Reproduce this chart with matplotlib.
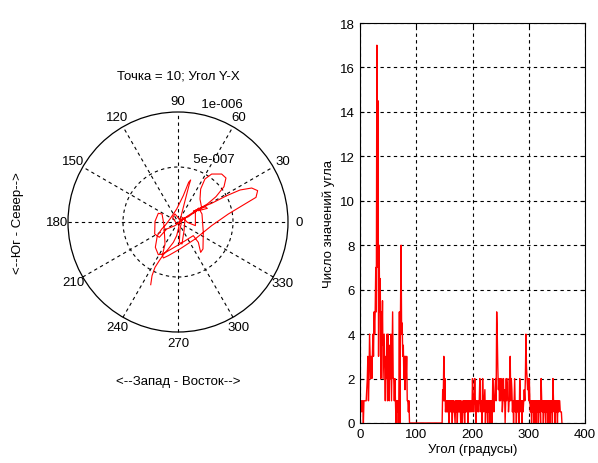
import numpy as np
import matplotlib.pyplot as plt
from matplotlib.patches import Circle

plt.rcParams['font.family'] = ['Liberation Sans', 'DejaVu Sans']
plt.rcParams['font.size'] = 8.5

# displacement track, east / north components in units of 1e-8
east = [-24.8, -23.6, -20.9, -17.0, -13.3, -8.8, -4.2, -1.2, 0.3, 1.2,
        3.3, 6.4, 10.3, 11.5, 9.7, 4.8, -1.2, -7.3, -11.8, -14.8,
        -18.8, -20.6, -17.9, -13.9, -11.8, -12.7, -14.5, -17.9, -20.9, -21.2,
        -17.0, -10.3, -2.7, 4.8, 12.4, 18.5, 21.5,
        20.0, 20.6, 24.5, 30.6, 39.7, 43.6, 41.8, 34.5, 26.7, 20.0, 13.9, 21.5,
        30.6, 44.2, 56.4, 67.0, 72.4, 70.9, 60.9, 45.8, 30.6, 15.5, 1.8, -8.8,
        -13.3, -14.5, -9.7, 1.8,
        13.9, 18.5, 20.6, 22.7, 23.0, 21.8, 18.8, 15.8, 15.8,
        8.5, 4.2, 1.8, 1.2, 3.6, 5.5, 6.4, 2.4, -1.2, -4.8, -2.7, 1.8, 9.4,
        17.0, 24.5, 26.7, 18.5]
north = [-57.0, -48.8, -41.2, -35.1, -29.7, -24.5, -18.5, -12.4, -6.4, -1.8,
         7.3, 19.4, 34.5, 38.2, 36.1, 23.9, 11.8, 2.7, -3.3, -6.4,
         -12.4, -23.0, -29.7, -29.1, -20.0, -3.3, 7.3, 7.9, 0.6, -10.9,
         -13.9, -6.4, -3.3, 2.7, 7.9, 10.9, 12.7,
         20.9, 30.0, 39.1, 43.6, 43.6, 40.0, 32.1, 23.0, 16.4, 12.4, 9.7, 13.3,
         17.0, 23.9, 29.1, 30.9, 28.5, 22.4, 16.4, 7.3, -3.3, -15.5, -24.5, -30.6,
         -32.7, -29.7, -26.7, -20.0,
         -12.4, -18.5, -27.6, -24.5, -9.4, 7.3, 12.7, 8.8, -3.3,
         -0.3, 4.2, -6.4, -18.5, -20.0, -7.9, 4.2, 0.6, -1.8, 4.2, 7.3, 1.8, 4.8,
         10.3, 13.9, 12.4, 10.3]

# number of angle values per degree, 0..359
counts = [0, 1, 1, 0.5, 1, 1, 0, 1, 1, 1,
          1, 1, 1.5, 2, 3, 1, 2, 4, 3, 2,
          3, 2, 3, 4, 3, 5, 4, 5, 7, 5,
          17, 7, 14.5, 3, 8, 5, 6.5, 2, 5, 3.5,
          5.5, 2, 3, 4, 2.5, 1, 3, 2, 4, 1,
          4, 2, 1, 3.5, 2, 4, 1, 3, 5, 2,
          2, 1, 2, 1, 0, 1, 0.5, 1, 0, 1,
          5, 0, 5, 8, 4, 4.5, 3, 3.5, 2, 3,
          1.5, 3, 2, 3, 1, 1, 0.5, 1, 0, 0] + [0] * 56 + [
          0, 1.5, 1, 3, 1, 2, 0.5, 1, 0.5, 1, 0.5, 1, 0, 1,
          0.5, 1, 0.5, 1, 0, 1, 0.5, 1, 0.5, 0,
          1, 0.5, 1, 0, 1, 0.5, 1, 0.5, 1, 0,
          1, 0.5, 0, 1, 0.5, 1, 0, 1, 0.5, 1,
          0.5, 1, 0, 1, 0.5, 1, 0.5, 1, 1, 0.5,
          2, 1, 0.5, 1, 2, 1, 0, 1, 0.5, 1,
          1, 0.5, 1, 2, 1, 0.5, 1, 0, 2, 1,
          0.5, 1, 1.5, 0, 1, 0.5, 1, 0, 1, 0.5,
          1, 0, 1, 0.5, 1, 0, 2, 1, 0.5, 1,
          1.5, 2, 1, 5, 4, 2.5, 1.5, 2, 1, 2,
          1, 1.5, 2, 0.5, 1, 2, 1, 1.5, 0, 1,
          2, 1, 1.5, 2, 0.5, 1, 1, 3, 1, 2,
          1.5, 0.5, 1, 0, 1, 2, 0.5, 1, 0, 1,
          0.5, 1, 1, 0, 2, 1, 0.5, 1, 0, 1,
          0.5, 1, 1.5, 1, 2, 4, 2.5, 2, 1.5, 2,
          1, 2, 1, 0.5, 1, 0, 1, 0.5, 1, 0,
          1, 0.5, 1, 0, 1, 0.5, 1, 0, 1, 0.5,
          1, 0, 2, 1, 0.5, 1, 0, 1, 0.5, 1,
          0, 1, 0.5, 1, 0, 1, 0.5, 1, 0, 1,
          0.5, 1, 0, 2, 1, 0.5, 1, 0, 1, 0.5,
          1, 0, 1, 0.5, 1, 1, 0.5, 0.5, 0.5, 0]
degrees = np.arange(len(counts))

rmax = 1e-6
rticks = [5e-7, 1e-6]
rtick_labels = ['5e-007', '1e-006']
spokes = np.arange(0, 360, 30)

W, H = 598, 464
fig = plt.figure(figsize=(W / 100, H / 100), dpi=100)
dash = (0, (3, 3))

# polar plot drawn on a square cartesian frame
ax = fig.add_axes([28 / W, 1 - 373 / H, 300 / W, 300 / H])
lim = 150 / 110 * rmax
ax.set_xlim(-lim, lim)
ax.set_ylim(-lim, lim)
ax.set_aspect('equal')
ax.axis('off')
ax.add_patch(Circle((0, 0), rmax, facecolor='white', edgecolor='black', lw=0.9, zorder=1))
for r in rticks[:-1]:
    ax.add_patch(Circle((0, 0), r, fill=False, edgecolor='black', lw=0.8, linestyle=dash, zorder=2))
for a in spokes[:6]:
    t = np.deg2rad(a)
    ax.plot([-rmax * np.cos(t), rmax * np.cos(t)], [-rmax * np.sin(t), rmax * np.sin(t)],
            color='black', lw=0.8, linestyle=dash, zorder=2)
for a in spokes:
    t = np.deg2rad(a)
    ax.text(1.1 * rmax * np.cos(t), 1.1 * rmax * np.sin(t), str(a),
            ha='center', va='center', fontsize=9.5)
c82, s82 = np.cos(np.deg2rad(82)), np.sin(np.deg2rad(82))
for r, lab in zip(rticks, rtick_labels):
    ax.text((r + rmax / 40) * c82, (r + rmax / 40) * s82, '  ' + lab,
            ha='left', va='bottom', fontsize=9.5)
ax.plot(np.array(east) * 1e-8, np.array(north) * 1e-8, color='#ff0000', lw=0.8, zorder=3)
ax.text(0, 1.33 * rmax, 'Точка = 10; Угол Y-X', ha='center', va='center', fontsize=9.5)
ax.text(0, -1.45 * rmax, '<--Запад - Восток-->', ha='center', va='center', fontsize=9.5)
ax.text(-1.45 * rmax, 0, '<--Юг - Север-->', ha='center', va='center',
        rotation=90, fontsize=9.5)

# histogram of angle values
bx = fig.add_axes([360 / W, 1 - 424 / H, 225 / W, 400 / H])
bx.plot(degrees, counts, color='#ff0000', lw=1.0)
bx.set_xlim(0, 400)
bx.set_ylim(0, 18)
bx.set_xticks(range(0, 401, 100))
bx.set_yticks(range(0, 19, 2))
bx.grid(True, color='black', lw=0.8, linestyle=dash)
bx.tick_params(direction='in', length=3, top=True, right=True, labelsize=9.5)
for s in bx.spines.values():
    s.set_linewidth(0.8)
bx.set_xlabel('Угол (градусы)', fontsize=9.5, labelpad=2)
bx.set_ylabel('Число значений угла', fontsize=9.5, labelpad=4)

fig.savefig('out.png', dpi=100)
